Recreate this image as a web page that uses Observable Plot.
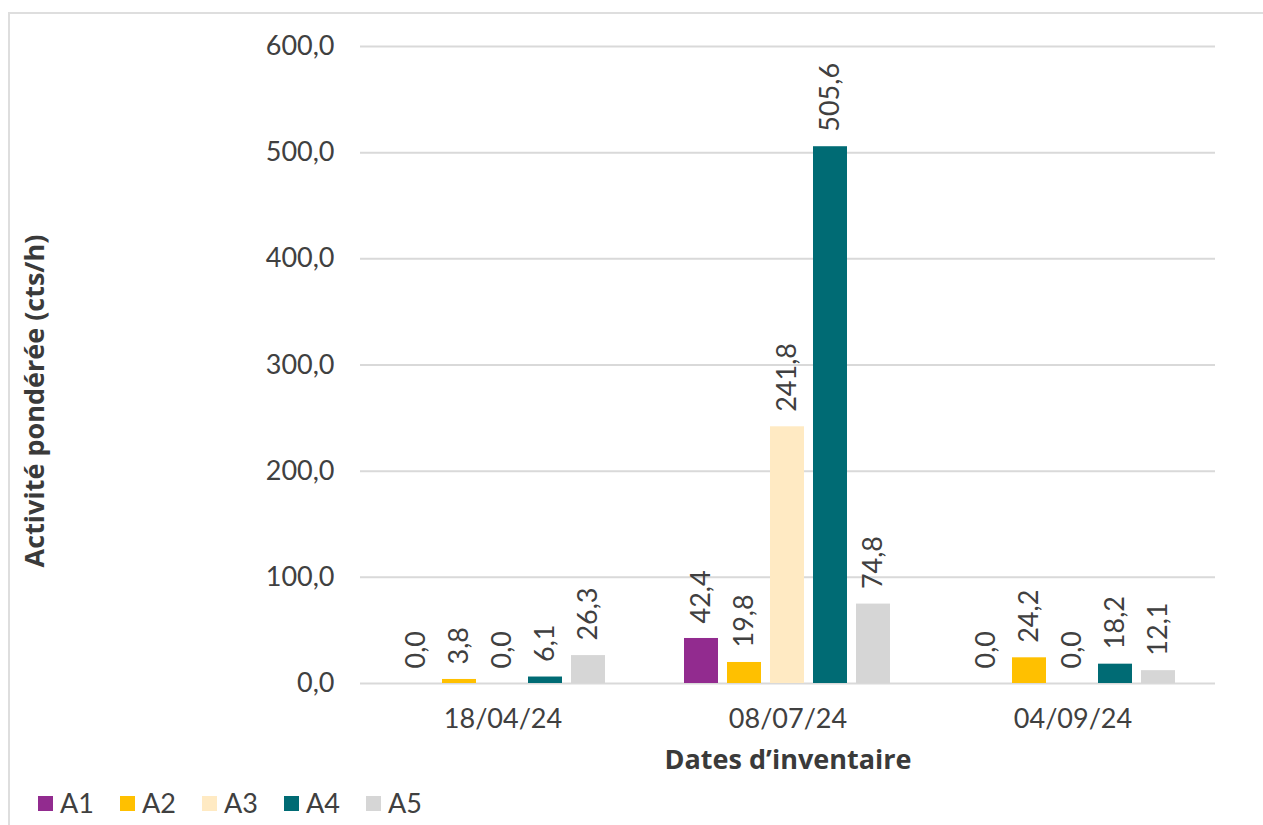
<!DOCTYPE html>
<html>
<head>
<meta charset="utf-8">
<script src="https://cdn.jsdelivr.net/npm/d3@7"></script>
<script src="https://cdn.jsdelivr.net/npm/@observablehq/plot@0.6"></script>
<style>
  html, body { margin: 0; padding: 0; background: #fff; width: 1263px; height: 825px; overflow: hidden; }
  #frame { position: absolute; left: 8px; top: 12px; width: 1300px; height: 900px; border-left: 2px solid #dedede; border-top: 2px solid #dedede; }
  #chart { position: absolute; left: 0; top: 0; }
  .ytitle { position: absolute; left: 33px; top: 401px; transform: translate(-50%, -50%) rotate(-90deg);
            white-space: nowrap; font-family: "Open Sans", sans-serif; font-weight: bold; font-size: 27px; color: #3a3a3a; }
  .xtitle { position: absolute; left: 788px; top: 742px; transform: translateX(-50%);
            white-space: nowrap; font-family: "Open Sans", sans-serif; font-weight: bold; font-size: 27px; color: #3a3a3a; line-height: 34px; }
  #legend { position: absolute; left: 38px; top: 787px; display: flex; font-family: Lato, sans-serif; font-size: 27px; color: #404040; line-height: 32px; }
  #legend .item { width: 82px; display: flex; align-items: center; }
  #legend .sw { width: 15px; height: 15px; margin-right: 7px; }
</style>
</head>
<body>
<div id="frame"></div>
<div id="chart"></div>
<div class="ytitle">Activité pondérée (cts/h)</div>
<div class="xtitle">Dates d’inventaire</div>
<div id="legend"></div>
<script>
const dates = ["18/04/24", "08/07/24", "04/09/24"];
const series = ["A1", "A2", "A3", "A4", "A5"];
const colors = ["#922B8F", "#FFC000", "#FFEAC3", "#006B74", "#D6D6D6"];
const A1 = [0.0, 42.4, 0.0];
const A2 = [3.8, 19.8, 24.2];
const A3 = [0.0, 241.8, 0.0];
const A4 = [6.1, 505.6, 18.2];
const A5 = [26.3, 74.8, 12.1];
const yTicks = [0, 100, 200, 300, 400, 500, 600];

const values = [A1, A2, A3, A4, A5];
const rows = series.flatMap((s, i) => dates.map((d, j) => ({date: d, serie: s, value: values[i][j]})));
const fmt = v => v.toFixed(1).replace(".", ",");

const chart = Plot.plot({
  width: 1263,
  height: 745,
  marginTop: 46,
  marginBottom: 62,
  marginLeft: 360,
  marginRight: 48,
  style: {fontFamily: "Lato, sans-serif", fontSize: "27px", color: "#404040", background: "transparent"},
  fx: {domain: dates, padding: 0, label: null, axis: "bottom", tickSize: 0, tickPadding: 25},
  x: {domain: series, paddingInner: 0.2, paddingOuter: 0.84, axis: null},
  y: {domain: [0, 600], ticks: yTicks, tickSize: 0, tickPadding: 26, tickFormat: fmt, label: null},
  color: {domain: series, range: colors},
  marks: [
    Plot.ruleY(yTicks, {stroke: "#d9d9d9", strokeWidth: 2}),
    Plot.barY(rows, {fx: "date", x: "serie", y: "value", fill: "serie"}),
    Plot.text(rows, {fx: "date", x: "serie", y: "value", text: d => fmt(d.value), rotate: -90,
                     textAnchor: "start", dy: -15, fill: "#404040"})
  ]
});
document.getElementById("chart").appendChild(chart);

const legend = document.getElementById("legend");
series.forEach((s, i) => {
  const item = document.createElement("div");
  item.className = "item";
  const sw = document.createElement("span");
  sw.className = "sw";
  sw.style.background = colors[i];
  const label = document.createElement("span");
  label.textContent = s;
  item.appendChild(sw);
  item.appendChild(label);
  legend.appendChild(item);
});
</script>
</body>
</html>
